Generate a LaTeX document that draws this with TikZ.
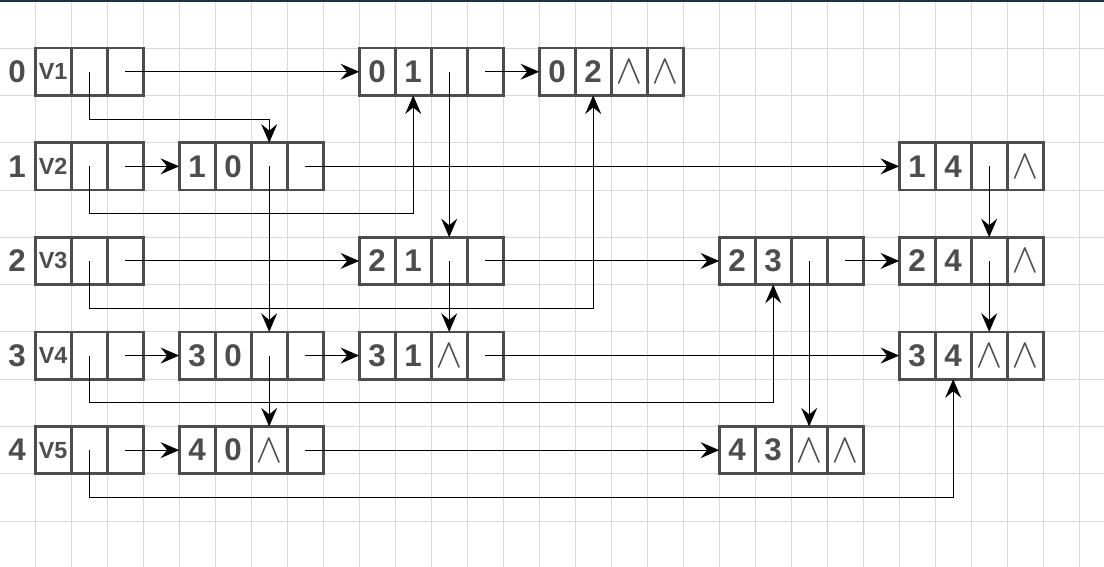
\documentclass[tikz,border=0pt]{standalone}
\usepackage{fontspec}
\setmainfont{Liberation Sans}
\newfontfamily\symf{latinmodern-math.otf}
\usetikzlibrary{arrows.meta}
\definecolor{boxc}{HTML}{4D4D4D}
\definecolor{gridc}{HTML}{D9D9D9}
\definecolor{barc}{HTML}{1C3142}
\newcommand\hv[1]{{\fontsize{17.5}{18}\selectfont #1}}
\newcommand\nil{{\symf\fontsize{31}{31}\selectfont ∧}}
\newcommand\emp{}
\newcommand\rec[4]{\foreach \celltxt [count=\ci] in {#4} {\node[cell] (#1-\ci) at ({#2+(\ci-0.5)*36},{0.8+47.3*(2*#3+1.5)}) {\celltxt};}}
\begin{document}
\begin{tikzpicture}[x=0.75pt,y=-0.75pt,
  cell/.style={draw=boxc, line width=2.1pt, minimum width=27pt, minimum height=35.475pt,
    inner sep=0pt, outer sep=0pt, text=boxc, font=\fontsize{23.5}{24}\selectfont\bfseries},
  lab/.style={inner sep=0pt, text=boxc, font=\fontsize{23.5}{24}\selectfont\bfseries},
  conn/.style={draw=black, line width=0.8pt, -{Stealth[length=14pt,width=12pt,inset=5pt]}},
  gridline/.style={draw=gridc, line width=0.75pt}]
\useasboundingbox (0,0) rectangle (1104,567);
\fill[white] (0,0) rectangle (1104,567);
\foreach \k in {0,...,29} \draw[gridline] ({35.2+36*\k},0) -- ({35.2+36*\k},567);
\foreach \k in {0,...,11} \draw[gridline] (0,{0.8+47.3*\k}) -- (1104,{0.8+47.3*\k});
\fill[barc] (0,0) rectangle (1104,2.5);
% row labels and mid coordinates
\foreach \r in {0,...,4} {
  \node[lab] (lab\r) at (17,{0.8+47.3*(2*\r+1.5)}) {\r};
  \coordinate (m\r) at (0,{0.8+47.3*(2*\r+2.5)});
}
% heads
\rec{h0}{35.2}{0}{\hv{V1},\emp,\emp}
\rec{h1}{35.2}{1}{\hv{V2},\emp,\emp}
\rec{h2}{35.2}{2}{\hv{V3},\emp,\emp}
\rec{h3}{35.2}{3}{\hv{V4},\emp,\emp}
\rec{h4}{35.2}{4}{\hv{V5},\emp,\emp}
% arcs
\rec{a01}{359.2}{0}{0,1,\emp,\emp}
\rec{a02}{539.2}{0}{0,2,\nil,\nil}
\rec{a10}{179.2}{1}{1,0,\emp,\emp}
\rec{a14}{899.2}{1}{1,4,\emp,\nil}
\rec{a21}{359.2}{2}{2,1,\emp,\emp}
\rec{a23}{719.2}{2}{2,3,\emp,\emp}
\rec{a24}{899.2}{2}{2,4,\emp,\nil}
\rec{a30}{179.2}{3}{3,0,\emp,\emp}
\rec{a31}{359.2}{3}{3,1,\nil,\emp}
\rec{a34}{899.2}{3}{3,4,\nil,\nil}
\rec{a40}{179.2}{4}{4,0,\nil,\emp}
\rec{a43}{719.2}{4}{4,3,\nil,\nil}
% out links (horizontal)
\draw[conn] (h0-3.center) -- (a01-1.west);
\draw[conn] (a01-4.center) -- (a02-1.west);
\draw[conn] (h1-3.center) -- (a10-1.west);
\draw[conn] (a10-4.center) -- (a14-1.west);
\draw[conn] (h2-3.center) -- (a21-1.west);
\draw[conn] (a21-4.center) -- (a23-1.west);
\draw[conn] (a23-4.center) -- (a24-1.west);
\draw[conn] (h3-3.center) -- (a30-1.west);
\draw[conn] (a30-4.center) -- (a31-1.west);
\draw[conn] (a31-4.center) -- (a34-1.west);
\draw[conn] (h4-3.center) -- (a40-1.west);
\draw[conn] (a40-4.center) -- (a43-1.west);
% in links
\draw[conn] (h0-2.center) -- (h0-2.center |- m0) -- (a10-3.north |- m0) -- (a10-3.north);
\draw[conn] (a10-3.center) -- (a30-3.north);
\draw[conn] (a30-3.center) -- (a40-3.north);
\draw[conn] (h1-2.center) -- (h1-2.center |- m1) -- (a01-2.south |- m1) -- (a01-2.south);
\draw[conn] (a01-3.center) -- (a21-3.north);
\draw[conn] (a21-3.center) -- (a31-3.north);
\draw[conn] (h2-2.center) -- (h2-2.center |- m2) -- (a02-2.south |- m2) -- (a02-2.south);
\draw[conn] (h3-2.center) -- (h3-2.center |- m3) -- (a23-2.south |- m3) -- (a23-2.south);
\draw[conn] (a23-3.center) -- (a43-3.north);
\draw[conn] (h4-2.center) -- (h4-2.center |- m4) -- (a34-2.south |- m4) -- (a34-2.south);
\draw[conn] (a14-3.center) -- (a24-3.north);
\draw[conn] (a24-3.center) -- (a34-3.north);
\end{tikzpicture}
\end{document}
